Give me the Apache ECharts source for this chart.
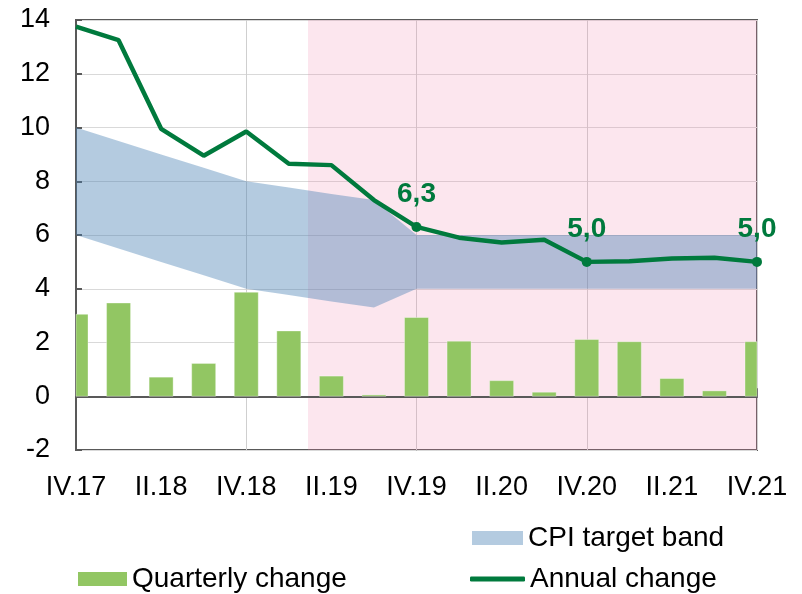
<!DOCTYPE html>
<html>
<head>
<meta charset="utf-8">
<script src="https://cdn.jsdelivr.net/npm/echarts@6/dist/echarts.min.js"></script>
<style>
  html, body { margin: 0; padding: 0; background: #fff; }
  #chart { width: 802px; height: 594px; }
</style>
</head>
<body>
<div id="chart"></div>
<script>
// quarters IV.17 .. IV.21 (17 points, x = 0..16)
let quarterLabels = ["IV.17","I.18","II.18","III.18","IV.18","I.19","II.19","III.19","IV.19",
                     "I.20","II.20","III.20","IV.20","I.21","II.21","III.21","IV.21"];
let quarterlyChange = [3.05, 3.47, 0.71, 1.22, 3.87, 2.43, 0.75, 0.05, 2.93,
                       2.05, 0.58, 0.15, 2.11, 2.03, 0.66, 0.2, 2.03];
let annualChange = [13.75, 13.25, 9.95, 8.95, 9.85, 8.65, 8.6, 7.3, 6.3,
                    5.9, 5.72, 5.82, 5.0, 5.02, 5.13, 5.15, 5.0];
let bandLower = [6, 5.5, 5, 4.5, 4, 3.77, 3.53, 3.3, 4, 4, 4, 4, 4, 4, 4, 4, 4];
let bandUpper = [10, 9.5, 9, 8.5, 8, 7.77, 7.53, 7.3, 6, 6, 6, 6, 6, 6, 6, 6, 6];
let labelledPoints = [8, 12, 16];
let shadeStart = 5.45;  // start of the pink period (in quarter units)
let shadeEnd = 16;

let chartDom = document.getElementById("chart");
let chart = echarts.init(chartDom);

let bandDiff = [];
let barData = [];
let lineData = [];
for (let i = 0; i < quarterLabels.length; i++) {
    bandDiff.push(+(bandUpper[i] - bandLower[i]).toFixed(3));
    barData.push([i, quarterlyChange[i]]);
    if (labelledPoints.indexOf(i) >= 0) {
        lineData.push({
            value: [i, annualChange[i]],
            symbol: "circle",
            symbolSize: 10,
            label: { show: true }
        });
    } else {
        lineData.push({ value: [i, annualChange[i]], symbol: "none" });
    }
}

let font = "Liberation Sans";
let green = "#007a3d";
let barGreen = "#92c663";

//bars clipped to the plot area (first and last bar are cut in half)
function renderBar(params, api) {
    let x = api.value(0);
    let y = api.value(1);
    let top = api.coord([x, y]);
    let base = api.coord([x, 0]);
    let w = 24;
    let cs = params.coordSys;
    let rect = echarts.graphic.clipRectByRect(
        { x: top[0] - w / 2, y: Math.min(top[1], base[1]), width: w, height: Math.abs(base[1] - top[1]) },
        { x: cs.x, y: cs.y, width: cs.width, height: cs.height }
    );
    if (!rect) return;
    return {
        type: "rect",
        shape: rect,
        style: { fill: barGreen, stroke: "rgba(255,255,255,0.35)", lineWidth: 1 }
    };
}

let legendText = { fontSize: 28, color: "#000", fontFamily: font };

let opts = {
    animation: false,
    textStyle: { fontFamily: font },
    grid: {
        left: 76, right: 45, top: 20, bottom: 144,
        show: true,
        borderColor: "#595959",
        borderWidth: 2
    },
    legend: [
        {
            data: [{ name: "CPI target band", icon: "rect", itemStyle: { color: "#b4cbe0" } }],
            left: 472, top: 524, padding: 0,
            itemWidth: 51, itemHeight: 14,
            selectedMode: false,
            textStyle: legendText
        },
        {
            data: [{ name: "Quarterly change", icon: "rect", itemStyle: { color: barGreen } }],
            left: 78, top: 565, padding: 0,
            itemWidth: 49, itemHeight: 14,
            selectedMode: false,
            textStyle: legendText
        },
        {
            data: [{ name: "Annual change", icon: "roundRect" }],
            left: 470, top: 565, padding: 0,
            itemWidth: 55, itemHeight: 5,
            selectedMode: false,
            textStyle: legendText
        }
    ],
    xAxis: [
        {
            type: "value",
            min: 0, max: 16, interval: 2,
            position: "bottom",
            axisLine: { show: false, onZero: false },
            axisTick: { show: false },
            splitLine: { show: false },
            axisLabel: {
                fontSize: 27, color: "#000", margin: 24, fontFamily: font,
                formatter: function (v) { return quarterLabels[v] || ""; }
            }
        },
        {
            type: "value",
            min: 0, max: 16, interval: 4,
            position: "bottom",
            axisLine: { show: true, onZero: true, lineStyle: { color: "#595959", width: 2 } },
            axisTick: { show: true, inside: true, length: 8, lineStyle: { color: "#595959", width: 2 } },
            axisLabel: { show: false },
            splitLine: { show: true, lineStyle: { color: "#cfcfcf", width: 1 } }
        },
        {
            type: "category",
            data: quarterLabels,
            boundaryGap: false,
            show: false
        }
    ],
    yAxis: {
        type: "value",
        min: -2, max: 14, interval: 2,
        axisLine: { show: true, lineStyle: { color: "#595959", width: 2 } },
        axisTick: { show: true, inside: true, length: 6, lineStyle: { color: "#595959", width: 2 } },
        axisLabel: { fontSize: 27, color: "#000", margin: 26, fontFamily: font },
        splitLine: { show: true, lineStyle: { color: "#d9d9d9", width: 1 } }
    },
    series: [
        {
            name: "bandLow",
            type: "line",
            xAxisIndex: 2,
            stack: "band",
            data: bandLower,
            symbol: "none",
            lineStyle: { width: 0 },
            z: 1
        },
        {
            name: "CPI target band",
            type: "line",
            xAxisIndex: 2,
            stack: "band",
            data: bandDiff,
            symbol: "none",
            lineStyle: { width: 0 },
            itemStyle: { color: "#b4cbe0" },
            areaStyle: { color: "rgba(67,125,177,0.4)", opacity: 1 },
            z: 2
        },
        {
            name: "Quarterly change",
            type: "custom",
            xAxisIndex: 0,
            data: barData,
            renderItem: renderBar,
            itemStyle: { color: barGreen },
            z: 3
        },
        {
            name: "Annual change",
            type: "line",
            xAxisIndex: 0,
            data: lineData,
            symbol: "none",
            itemStyle: { color: green },
            lineStyle: { color: green, width: 4.5 },
            label: {
                show: false,
                position: "top",
                distance: 14,
                fontSize: 28,
                fontWeight: "bold",
                color: green,
                fontFamily: font,
                formatter: function (p) { return p.value[1].toFixed(1).replace(".", ","); }
            },
            markArea: {
                silent: true,
                z: 0,
                itemStyle: { color: "rgba(240,130,170,0.2)" },
                data: [[{ xAxis: shadeStart }, { xAxis: shadeEnd }]]
            },
            z: 4
        }
    ]
};
chart.setOption(opts);
</script>
</body>
</html>
